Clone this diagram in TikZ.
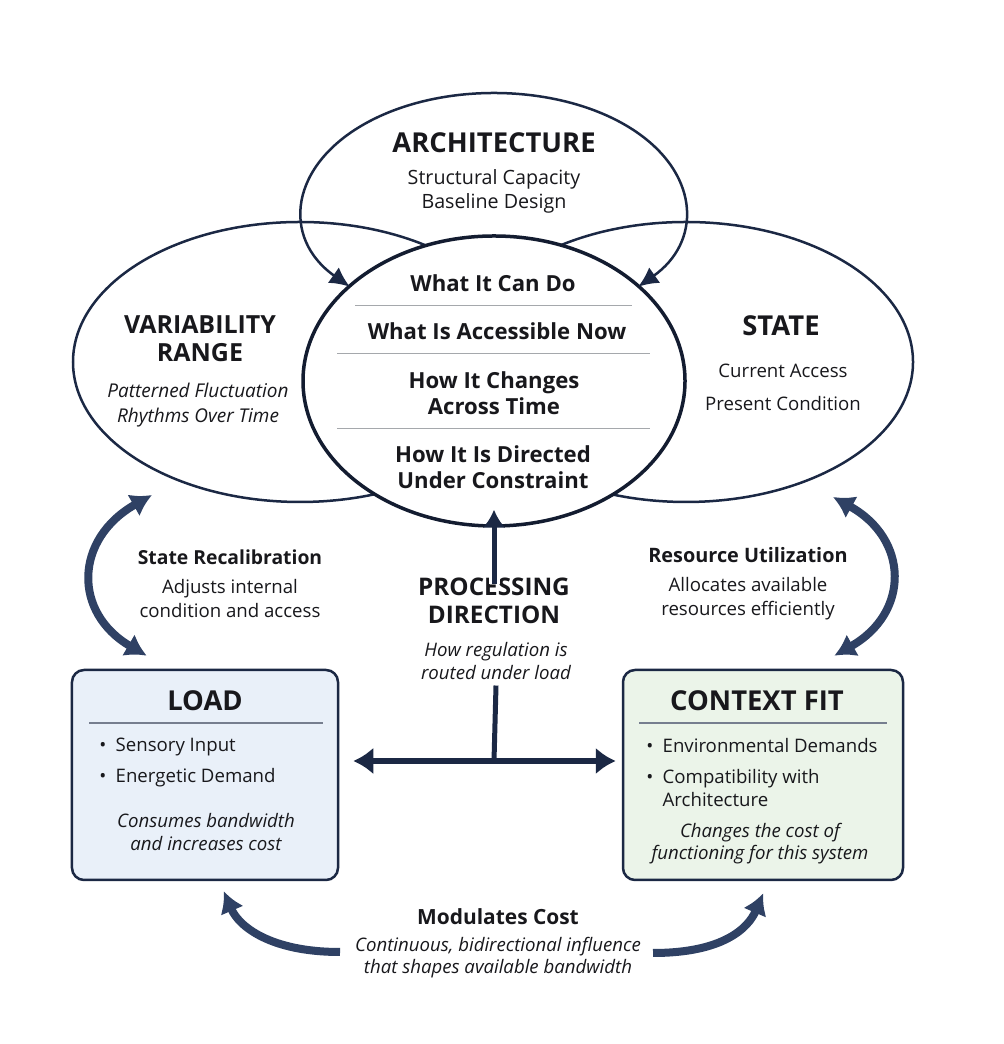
\documentclass[tikz,border=0pt]{standalone}
\usepackage{fontspec}
\setmainfont{Open Sans}
\usepackage{tikz}
\usetikzlibrary{arrows.meta,positioning,calc,shapes.geometric}
\definecolor{navy}{RGB}{27,40,68}
\definecolor{slate}{RGB}{47,65,100}
\definecolor{ink}{RGB}{24,24,28}
\definecolor{rulegray}{RGB}{165,168,172}
\definecolor{lightblue}{RGB}{233,240,249}
\definecolor{lightgreen}{RGB}{235,244,233}
\tikzset{
  ring/.style={ellipse, draw=navy, line width=0.5mm, inner sep=0pt},
  corering/.style={ellipse, draw=navy!70!black, line width=0.7mm, fill=white, inner sep=0pt},
  cardbox/.style={draw=navy, line width=0.5mm, rounded corners=2.4mm, inner sep=0pt,
    minimum height=42mm},
  txttitle/.style={font=\fontsize{15.6}{15.9}\selectfont\bfseries, text=ink, align=center, inner sep=0pt},
  txtsmalltitle/.style={font=\fontsize{14.2}{15.9}\selectfont\bfseries, text=ink, align=center, inner sep=0pt},
  txthead/.style={font=\fontsize{12.6}{14.8}\selectfont\bfseries, text=ink, align=center, inner sep=0pt},
  txtplain/.style={font=\fontsize{10.6}{13.7}\selectfont, text=ink, align=center, inner sep=0pt},
  txtnote/.style={font=\fontsize{10.6}{13.1}\selectfont\itshape, text=ink, align=center, inner sep=0pt},
  sepline/.style={draw=rulegray, line width=0.2mm},
  boxrule/.style={draw=navy!60, line width=0.25mm},
  archflow/.style={{Latex[length=4mm,width=3.8mm]}-{Latex[length=4mm,width=3.8mm]}, draw=navy, line width=0.5mm},
  bigflow/.style={-{Latex[length=4.2mm,width=5mm]}, draw=slate, line width=1.6mm},
  bothflow/.style={{Latex[length=4.2mm,width=5mm]}-{Latex[length=4.2mm,width=5mm]}, draw=slate, line width=1.6mm},
  hflow/.style={{Latex[length=4mm,width=5.4mm]}-{Latex[length=4mm,width=5.4mm]}, draw=navy, line width=1.2mm},
  upflow/.style={-{Latex[length=3.6mm,width=4.6mm]}, draw=navy, line width=1mm},
  stem/.style={draw=navy, line width=1mm}
}

\begin{document}
\begin{tikzpicture}[x=0.2mm, y=0.2mm]
\fill[white] (0,0) rectangle (1003,1044);
\useasboundingbox (0,0) rectangle (1003,1044);

% side rings and core
\node[ring, minimum width=90.8mm, minimum height=56mm] (var) at (300,682) {};
\node[ring, minimum width=90.8mm, minimum height=56mm] (state) at (686,682) {};
\node[corering, minimum width=76.4mm, minimum height=58mm] (core) at (494,663) {};

% architecture ring, opened into the core
\coordinate (archc) at (494,834);
\draw[archflow] ($(archc)+(221:191 and 117)$) arc[start angle=221, end angle=-41, x radius=191, y radius=117];

% core rows
\node[txthead] (whatdo) at (493,761) {What It Can Do};
\node[txthead] (access) at (497,713) {What Is Accessible Now};
\node[txthead] (changes) at (494,651) {How It Changes\\Across Time};
\node[txthead] (directed) at (493,577) {How It Is Directed\\Under Constraint};
\draw[sepline] (355,738) -- (632,738);
\draw[sepline] (337,690) -- (650,690);
\draw[sepline] (337,615) -- (650,615);

% ring labels
\node[txttitle] (archtitle) at (494,901) {ARCHITECTURE};
\node[txtplain, font=\fontsize{11.2}{13.7}\selectfont] (archsub) at (494,853) {Structural Capacity\\Baseline Design};
\node[txtsmalltitle] (vartitle) at (200,705) {VARIABILITY\\RANGE};
\node[txtnote, font=\fontsize{10.8}{14.2}\selectfont\itshape] (varsub) at (198,638.5) {Patterned Fluctuation\\Rhythms Over Time};
\node[txttitle] (statetitle) at (781,718) {STATE};
\node[txtplain, font=\fontsize{10.6}{18.8}\selectfont] (statesub) at (783,656.5) {Current Access\\Present Condition};

% boxes
\node[cardbox, fill=lightblue, minimum width=53.2mm] (load) at (205,269) {};
\node[txttitle] (loadtitle) at (205,343) {LOAD};
\draw[boxrule] (89,321) -- (323,321);
\node[txtplain, align=left, anchor=west, font=\fontsize{10.6}{17.6}\selectfont] (loaditems) at (99,281.5)
  {\textbullet\enspace Sensory Input\\\textbullet\enspace Energetic Demand};
\node[txtnote] (loadnote) at (206,211.5) {Consumes bandwidth\\and increases cost};

\node[cardbox, fill=lightgreen, minimum width=56mm] (fit) at (763,269) {};
\node[txttitle] (fittitle) at (757,343) {CONTEXT FIT};
\draw[boxrule] (639,321) -- (887,321);
\node[txtplain, align=left, anchor=west, font=\fontsize{10.6}{13.1}\selectfont] (fititems) at (646,271.5)
  {\textbullet\enspace Environmental Demands\\[5pt]\textbullet\enspace Compatibility with\\\hphantom{\textbullet\enspace}Architecture};
\node[txtnote, font=\fontsize{10.6}{12.5}\selectfont\itshape] (fitnote) at (760,200) {Changes the cost of\\functioning for this system};

% middle labels
\node[txtplain] (recal) at (230,460.5)
  {{\fontsize{11.0}{13}\selectfont\bfseries State Recalibration}\\[2.8pt]Adjusts internal\\condition and access};
\node[txtplain] (util) at (748,460.5)
  {{\fontsize{11.3}{13}\selectfont\bfseries Resource Utilization}\\[2.8pt]Allocates available\\resources efficiently};
\node[txtsmalltitle, font=\fontsize{13.8}{15.9}\selectfont\bfseries] (proc) at (494,443) {PROCESSING\\DIRECTION};
\node[txtnote] (procsub) at (496,382.5) {How regulation is\\routed under load};
\node[txtnote, font=\fontsize{10.6}{12.5}\selectfont\itshape] (modcost) at (498,100.5)
  {{\fontsize{11.9}{13}\selectfont\upshape\bfseries Modulates Cost}\\[2.6pt]Continuous, bidirectional influence\\that shapes available bandwidth};

% connectors
\coordinate (hub) at (494,283);
\draw[upflow, preaction={draw=white, line width=2.2mm, -{Latex[length=5mm,width=6.6mm]}}]
  ([yshift=-1.2mm]proc.north) -- ([yshift=3.6mm]core.south);
\draw[stem] ([yshift=-1mm]procsub.south) -- (hub);
\draw[hflow, shorten <=2.8mm, shorten >=1.2mm] (hub -| load.east) -- (hub -| fit.west);

\coordinate (recalTop) at ([shift={(-148,-133)}]var.center);
\coordinate (recalBot) at ([shift={(76,13)}]load.north west);
\draw[bothflow] (recalBot) .. controls +(-74,43) and +(-78,-44) .. (recalTop);

\coordinate (utilTop) at ([shift={(147,-135)}]state.center);
\coordinate (utilBot) at ([shift={(-70,13)}]fit.north east);
\draw[bothflow] (utilBot) .. controls +(76,43) and +(76,-42) .. (utilTop);

\coordinate (costL) at (340,92);
\coordinate (costR) at (653,91);
\draw[bigflow] (costL) .. controls +(-70,0) and +(15,-35) .. ([shift={(153,-10)}]load.south west);
\draw[bigflow] (costR) .. controls +(70,0) and +(-15,-35) .. ([shift={(-141,-12)}]fit.south east);
\end{tikzpicture}
\end{document}
